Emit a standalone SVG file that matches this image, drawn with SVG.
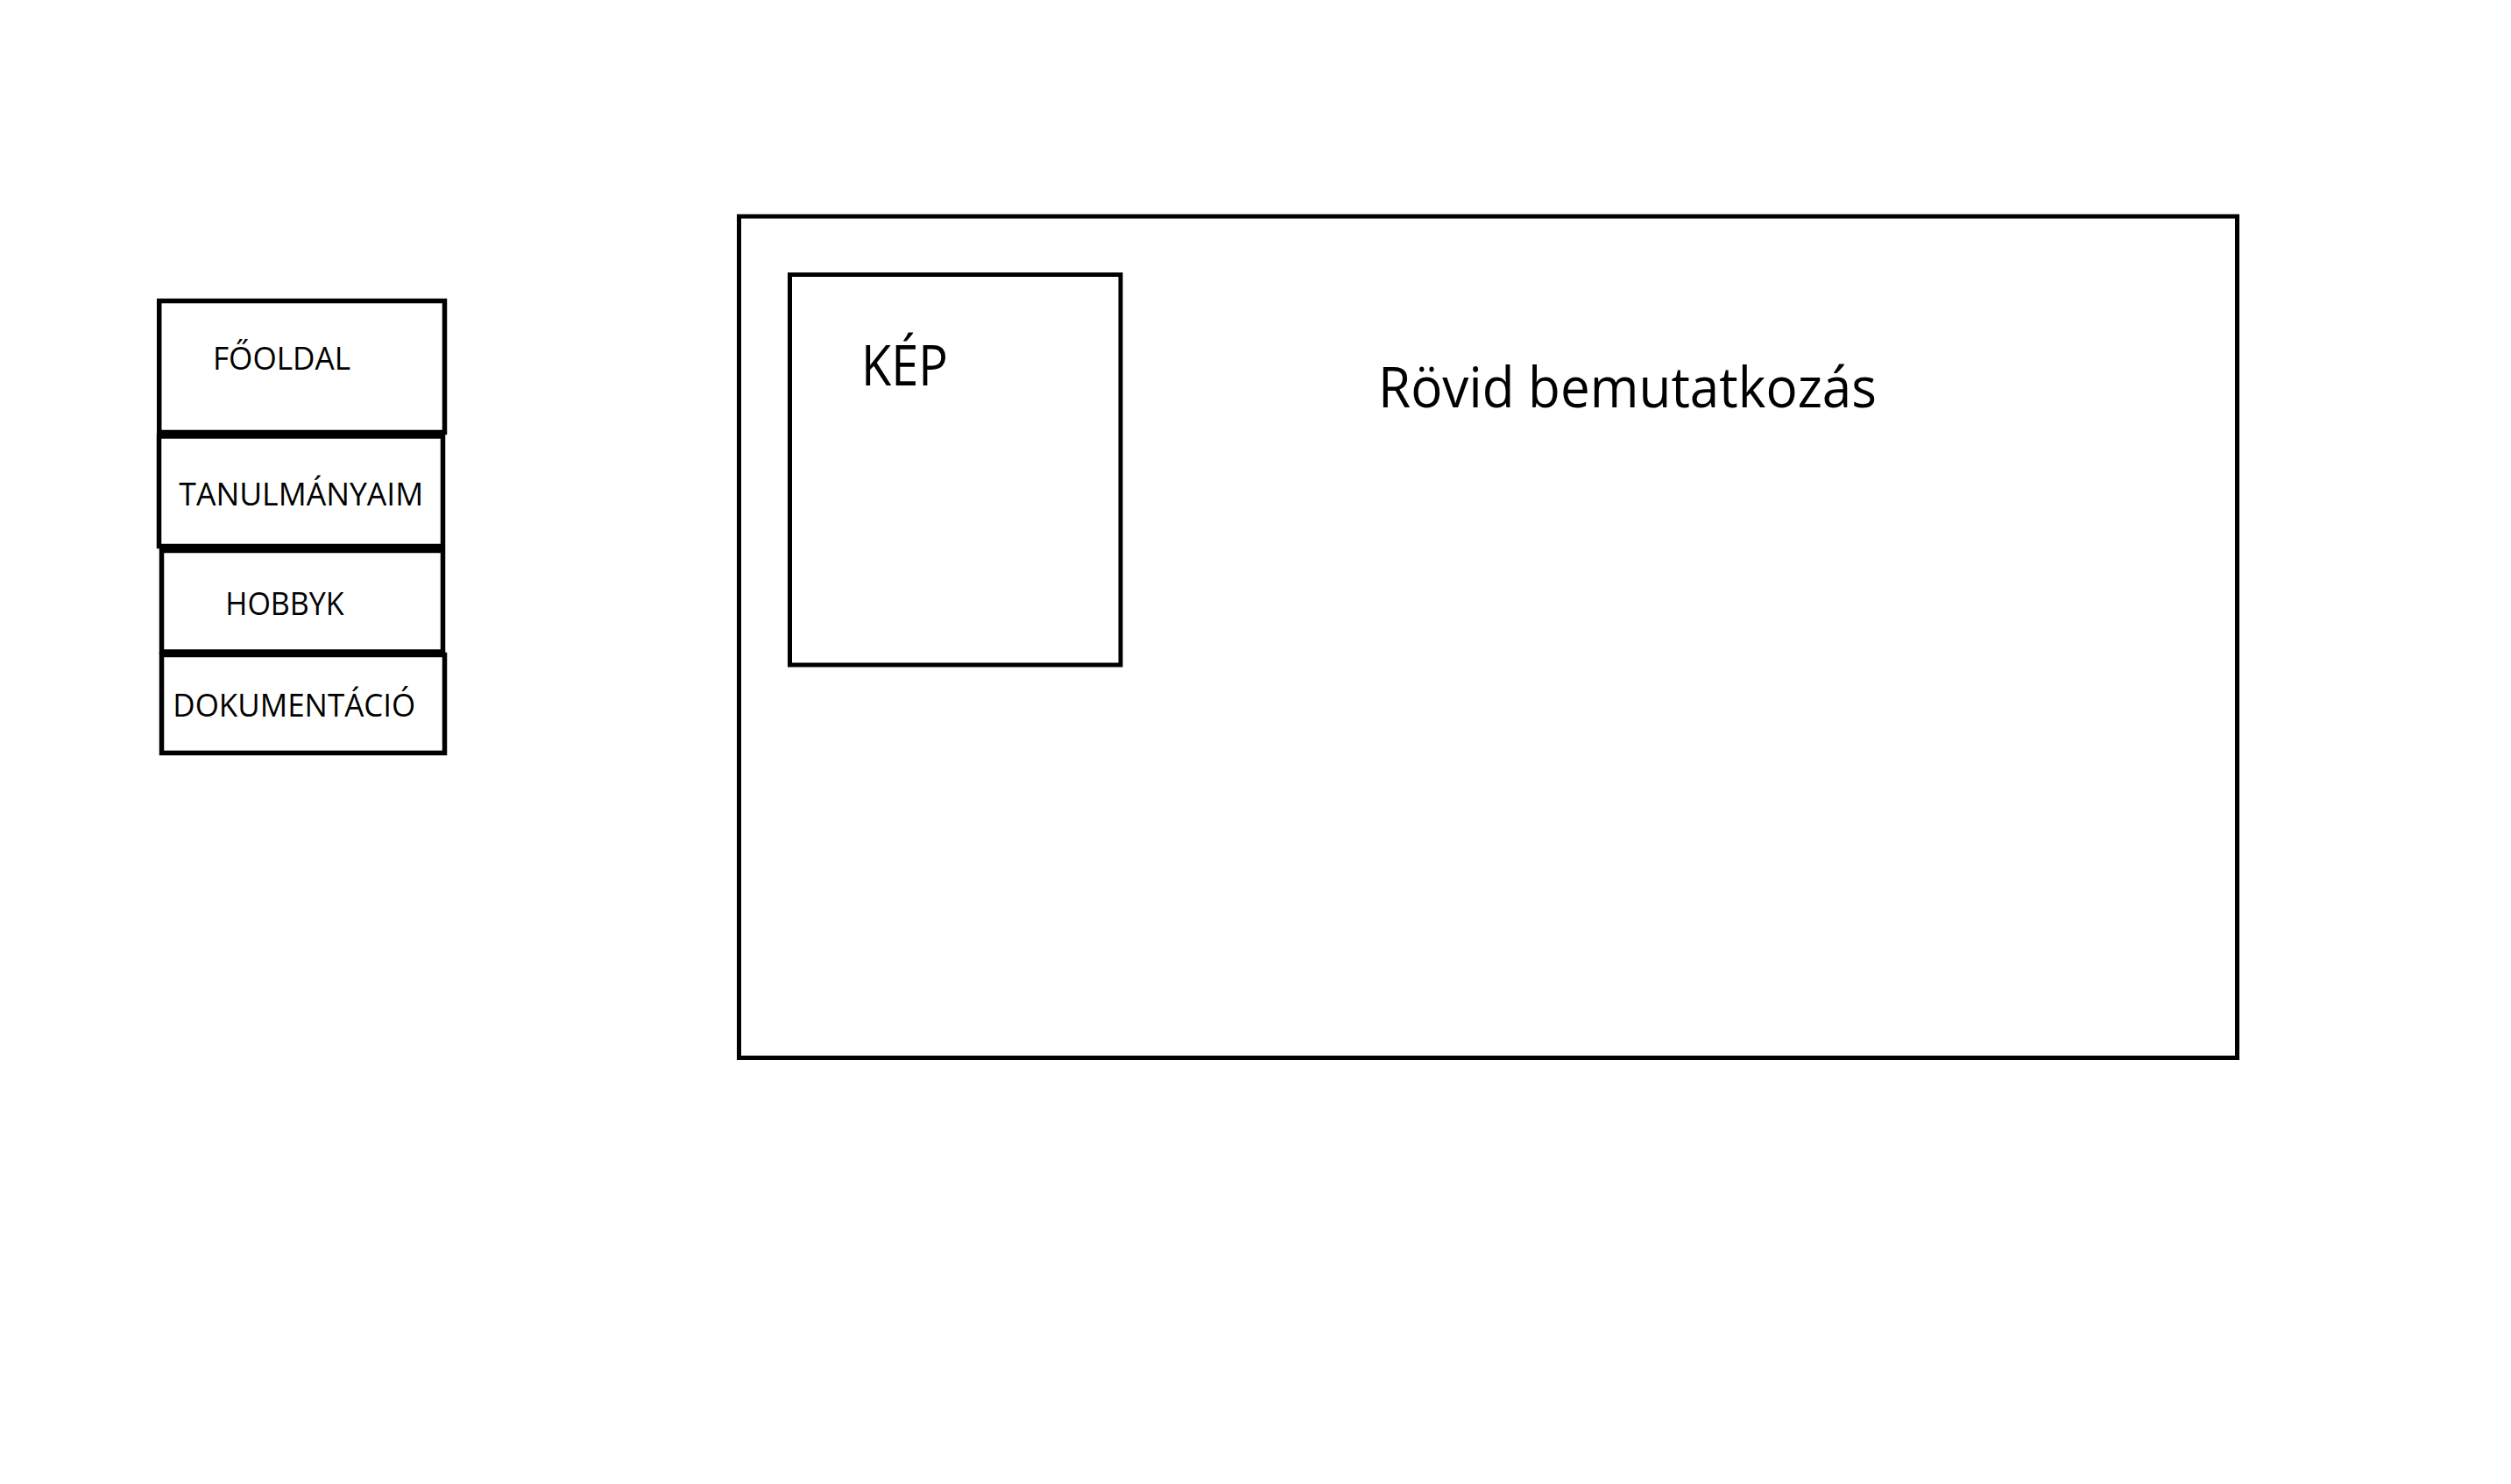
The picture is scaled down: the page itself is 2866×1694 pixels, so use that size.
<svg xmlns="http://www.w3.org/2000/svg" width="2866" height="1694" viewBox="0 0 2866 1694">
<style>
.box{fill:none;stroke:#000;}
.nav{stroke-width:5.5;}
.main{stroke-width:5;}
text{font-family:"Open Sans","Liberation Sans",sans-serif;fill:#000;}
.small{font-size:36px;}
.big{font-size:64px;}
</style>
<rect width="2866" height="1694" fill="#fff"/>
<g id="main-panel">
<rect class="box main" x="843.5" y="247" width="1710" height="960.5"/>
</g>
<g id="kep">
<rect class="box main" x="901.5" y="313.5" width="377.5" height="445.5"/>
<text class="big" x="983" y="440" textLength="99" lengthAdjust="spacingAndGlyphs">KÉP</text>
</g>
<g id="intro">
<text class="big" x="1573" y="465" textLength="569" lengthAdjust="spacingAndGlyphs">Rövid bemutatkozás</text>
</g>
<g id="nav-fooldal">
<rect class="box nav" x="181.7" y="343.5" width="325.8" height="150"/>
<text class="small" x="243" y="422" textLength="157" lengthAdjust="spacingAndGlyphs">FŐOLDAL</text>
</g>
<g id="nav-tanulmanyaim">
<rect class="box nav" x="181.5" y="498" width="324" height="125.5"/>
<text class="small" x="204.3" y="577" textLength="279" lengthAdjust="spacingAndGlyphs">TANULMÁNYAIM</text>
</g>
<g id="nav-hobbyk">
<rect class="box nav" x="184.5" y="628.5" width="321" height="115.5"/>
<text class="small" x="257.3" y="702" textLength="135.4" lengthAdjust="spacingAndGlyphs">HOBBYK</text>
</g>
<g id="nav-dokumentacio">
<rect class="box nav" x="184.5" y="747.5" width="323" height="112"/>
<text class="small" x="197.3" y="818" textLength="277" lengthAdjust="spacingAndGlyphs">DOKUMENTÁCIÓ</text>
</g>
<g id="connectors"/>
</svg>
